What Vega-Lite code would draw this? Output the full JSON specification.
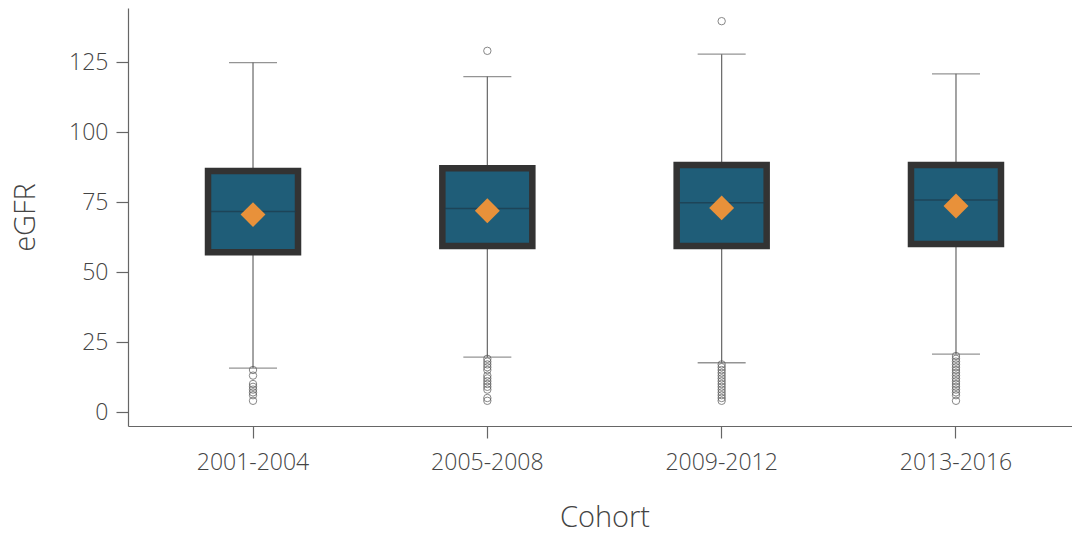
{
  "$schema": "https://vega.github.io/schema/vega-lite/v6.json",
  "autosize": "none",
  "width": 944,
  "height": 418,
  "padding": {"left": 128, "top": 8, "right": 0, "bottom": 108},
  "background": "white",
  "config": {
    "view": {"stroke": null},
    "font": "Open Sans",
    "axis": {
      "domainColor": "#666666",
      "tickColor": "#666666",
      "labelColor": "#444444",
      "titleColor": "#444444",
      "labelFont": "Open Sans",
      "titleFont": "Open Sans",
      "labelFontWeight": 300,
      "titleFontWeight": 300,
      "grid": false,
      "domainWidth": 1.2,
      "tickWidth": 1.2,
      "tickSize": 12
    }
  },
  "datasets": {
    "boxes": [
      {"cohort": "2001-2004", "lower": 15.7, "q1": 57.1, "median": 71.6, "q3": 86.1, "upper": 124.8, "mean": 70.5},
      {"cohort": "2005-2008", "lower": 19.6, "q1": 59.3, "median": 72.7, "q3": 87.1, "upper": 119.8, "mean": 71.9},
      {"cohort": "2009-2012", "lower": 17.6, "q1": 59.3, "median": 74.7, "q3": 88.2, "upper": 127.8, "mean": 72.9},
      {"cohort": "2013-2016", "lower": 20.7, "q1": 60.0, "median": 75.7, "q3": 88.2, "upper": 120.8, "mean": 73.6}
    ],
    "outliers": [
      {"cohort": "2001-2004", "value": 15},
      {"cohort": "2001-2004", "value": 13},
      {"cohort": "2001-2004", "value": 10},
      {"cohort": "2001-2004", "value": 9},
      {"cohort": "2001-2004", "value": 8},
      {"cohort": "2001-2004", "value": 7},
      {"cohort": "2001-2004", "value": 6},
      {"cohort": "2001-2004", "value": 4},
      {"cohort": "2005-2008", "value": 129},
      {"cohort": "2005-2008", "value": 19},
      {"cohort": "2005-2008", "value": 18},
      {"cohort": "2005-2008", "value": 17},
      {"cohort": "2005-2008", "value": 16},
      {"cohort": "2005-2008", "value": 15},
      {"cohort": "2005-2008", "value": 13},
      {"cohort": "2005-2008", "value": 12},
      {"cohort": "2005-2008", "value": 11},
      {"cohort": "2005-2008", "value": 10},
      {"cohort": "2005-2008", "value": 9},
      {"cohort": "2005-2008", "value": 8},
      {"cohort": "2005-2008", "value": 5},
      {"cohort": "2005-2008", "value": 4},
      {"cohort": "2009-2012", "value": 139.6},
      {"cohort": "2009-2012", "value": 17},
      {"cohort": "2009-2012", "value": 16},
      {"cohort": "2009-2012", "value": 15},
      {"cohort": "2009-2012", "value": 14},
      {"cohort": "2009-2012", "value": 13},
      {"cohort": "2009-2012", "value": 12},
      {"cohort": "2009-2012", "value": 11},
      {"cohort": "2009-2012", "value": 10},
      {"cohort": "2009-2012", "value": 9},
      {"cohort": "2009-2012", "value": 8},
      {"cohort": "2009-2012", "value": 7},
      {"cohort": "2009-2012", "value": 6},
      {"cohort": "2009-2012", "value": 5},
      {"cohort": "2009-2012", "value": 4},
      {"cohort": "2013-2016", "value": 20},
      {"cohort": "2013-2016", "value": 19},
      {"cohort": "2013-2016", "value": 18},
      {"cohort": "2013-2016", "value": 17},
      {"cohort": "2013-2016", "value": 16},
      {"cohort": "2013-2016", "value": 15},
      {"cohort": "2013-2016", "value": 14},
      {"cohort": "2013-2016", "value": 13},
      {"cohort": "2013-2016", "value": 12},
      {"cohort": "2013-2016", "value": 11},
      {"cohort": "2013-2016", "value": 10},
      {"cohort": "2013-2016", "value": 9},
      {"cohort": "2013-2016", "value": 8},
      {"cohort": "2013-2016", "value": 7},
      {"cohort": "2013-2016", "value": 6},
      {"cohort": "2013-2016", "value": 4}
    ]
  },
  "encoding": {
    "x": {
      "field": "cohort",
      "type": "nominal",
      "sort": null,
      "scale": {"paddingInner": 0, "paddingOuter": 0.0335, "range": [0, 953]},
      "axis": {"title": "Cohort", "labelAngle": 0, "labelFontSize": 23, "titleFontSize": 29, "labelPadding": 13, "titlePadding": 29}
    }
  },
  "layer": [
    {
      "data": {"name": "boxes"},
      "mark": {"type": "rule", "color": "#666666", "strokeWidth": 1.2},
      "encoding": {
        "y": {
          "field": "lower",
          "type": "quantitative",
          "scale": {"domain": [-5, 144.3], "nice": false, "zero": false},
          "axis": {"title": "eGFR", "values": [0, 25, 50, 75, 100, 125], "labelFontSize": 23, "titleFontSize": 29, "labelPadding": 8, "titlePadding": 28}
        },
        "y2": {"field": "upper"}
      }
    },
    {
      "data": {"name": "boxes"},
      "mark": {"type": "tick", "color": "#666666", "size": 48, "thickness": 1.3},
      "encoding": {"y": {"field": "lower", "type": "quantitative"}}
    },
    {
      "data": {"name": "boxes"},
      "mark": {"type": "tick", "color": "#666666", "size": 48, "thickness": 1.3},
      "encoding": {"y": {"field": "upper", "type": "quantitative"}}
    },
    {
      "data": {"name": "outliers"},
      "mark": {"type": "point", "shape": "circle", "size": 55, "filled": false, "color": "#555555", "strokeWidth": 1},
      "encoding": {"y": {"field": "value", "type": "quantitative"}}
    },
    {
      "data": {"name": "boxes"},
      "mark": {"type": "bar", "size": 90, "fill": "#1f5d78", "stroke": "#333333", "strokeWidth": 6.5},
      "encoding": {
        "y": {"field": "q1", "type": "quantitative"},
        "y2": {"field": "q3"}
      }
    },
    {
      "data": {"name": "boxes"},
      "mark": {"type": "tick", "color": "#1c3a4a", "size": 86, "thickness": 1.5},
      "encoding": {"y": {"field": "median", "type": "quantitative"}}
    },
    {
      "data": {"name": "boxes"},
      "mark": {"type": "point", "shape": "diamond", "size": 620, "filled": true, "color": "#e8913a", "opacity": 1},
      "encoding": {"y": {"field": "mean", "type": "quantitative"}}
    }
  ]
}
